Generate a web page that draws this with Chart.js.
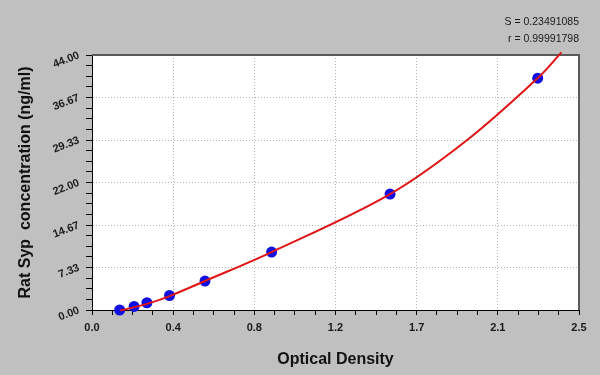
<!DOCTYPE html>
<html><head><meta charset="utf-8">
<script src="https://cdn.jsdelivr.net/npm/chart.js@4.4.0/dist/chart.umd.min.js"></script>
<style>html,body{margin:0;padding:0;background:#c0c0c0;} #wrap{width:600px;height:375px;position:relative;}</style>
</head><body><div id="wrap"><canvas id="c" width="600" height="375"></canvas></div>
<script>
// Standards
const stdOD   = [0.142, 0.216, 0.282, 0.398, 0.580, 0.922, 1.530, 2.288];
const stdConc = [0, 0.625, 1.25, 2.5, 5, 10, 20, 40];
// Fitted curve, points
const curveOD   = [0.145, 0.282, 0.398, 0.580, 0.922, 1.53, 1.926, 2.288, 2.41];
const curveConc = [-0.1, 1.05, 2.4, 5.0, 10.0, 20.0, 29.33, 40.0, 44.45];
const xTickLabels = ['0.0','0.4','0.8','1.2','1.7','2.1','2.5'];
const yTickLabels = ['0.00','7.33','14.67','22.00','29.33','36.67','44.00'];
const statLines = ['S = 0.23491085', 'r = 0.99991798'];
const xTitle = 'Optical Density';
const yTitle = 'Rat Syp  concentration (ng/ml)';
const xMax = 2.5, yMax = 44, minorPerMajor = 4;

const FONT = "'Liberation Sans', Arial, sans-serif";
Chart.defaults.font.family = FONT;

const framePlugin = {
  id: 'frame',
  beforeDraw(chart) {
    const {ctx, chartArea: a} = chart;
    ctx.save();
    ctx.fillStyle = '#c0c0c0';
    ctx.fillRect(0, 0, chart.width, chart.height);
    ctx.fillStyle = '#ffffff';
    ctx.fillRect(a.left, a.top, a.right - a.left, a.bottom - a.top);
    ctx.restore();
  },
  beforeDatasetsDraw(chart) {
    const {ctx, chartArea: a} = chart;
    ctx.save();
    ctx.strokeStyle = '#5a5a5a';
    ctx.lineWidth = 2;
    ctx.beginPath();
    ctx.moveTo(a.left, a.top);
    ctx.lineTo(a.right, a.top);
    ctx.lineTo(a.right, a.bottom);
    ctx.stroke();
    ctx.restore();
  },
  afterDraw(chart) {
    const {ctx, chartArea: a} = chart;
    ctx.save();
    ctx.fillStyle = '#1a1a1a';
    ctx.font = '10.5px ' + FONT;
    ctx.textAlign = 'right';
    ctx.textBaseline = 'middle';
    ctx.fillText(statLines[0], a.right, 22);
    ctx.fillText(statLines[1], a.right, 39);
    ctx.restore();
  }
};

function makeTicks(max) {
  return (scale) => {
    const n = (xTickLabels.length - 1) * minorPerMajor;
    scale.ticks = Array.from({length: n + 1}, (_, i) => ({value: i * max / n}));
  };
}

new Chart(document.getElementById('c'), {
  type: 'scatter',
  data: {
    datasets: [
      {
        label: 'fit',
        data: curveOD.map((x, i) => ({x, y: curveConc[i]})),
        showLine: true,
        borderColor: '#e01414',
        borderWidth: 2,
        pointRadius: 0,
        tension: 0.35,
        clip: false
      },
      {
        label: 'standards',
        data: stdOD.map((x, i) => ({x, y: stdConc[i]})),
        backgroundColor: '#1010e0',
        borderWidth: 0,
        pointRadius: 5.5,
        clip: false
      }
    ]
  },
  options: {
    responsive: false,
    animation: false,
    layout: {padding: {top: 55, right: 21, left: 0, bottom: 0}},
    plugins: {legend: {display: false}, tooltip: {enabled: false}},
    scales: {
      x: {
        type: 'linear', min: 0, max: xMax,
        afterBuildTicks: makeTicks(xMax),
        afterFit: (s) => { s.height = 65; },
        ticks: {
          autoSkip: false, maxRotation: 0, minRotation: 0, padding: 6,
          color: '#1a1a1a', font: {size: 11, weight: 'bold'},
          callback: (v, i) => i % minorPerMajor === 0 ? xTickLabels[i / minorPerMajor] : ''
        },
        grid: {
          color: (c) => c.index % minorPerMajor === 0 ? '#b4b4b4' : 'rgba(0,0,0,0)',
          tickColor: '#000', tickLength: 5, lineWidth: 1
        },
        border: {display: true, color: '#000', width: 1, dash: [1, 2]},
        title: {display: true, text: xTitle, color: '#111', font: {size: 16, weight: 'bold'}, padding: {top: 0, bottom: 5.5}}
      },
      y: {
        type: 'linear', min: 0, max: yMax,
        afterBuildTicks: makeTicks(yMax),
        afterFit: (s) => { s.width = 92; },
        ticks: {
          autoSkip: false, minRotation: 21, maxRotation: 21, padding: 7,
          color: '#1a1a1a', font: {size: 11, weight: 'bold'},
          callback: (v, i) => i % minorPerMajor === 0 ? yTickLabels[i / minorPerMajor] : ''
        },
        grid: {
          color: (c) => c.index % minorPerMajor === 0 ? '#b4b4b4' : 'rgba(0,0,0,0)',
          tickColor: '#000', tickLength: 6, lineWidth: 1
        },
        border: {display: true, color: '#000', width: 1, dash: [1, 2]},
        title: {display: true, text: yTitle, color: '#111', font: {size: 16, weight: 'bold'}, padding: {top: 16.4, bottom: 0}}
      }
    }
  },
  plugins: [framePlugin]
});
</script>
</body></html>
